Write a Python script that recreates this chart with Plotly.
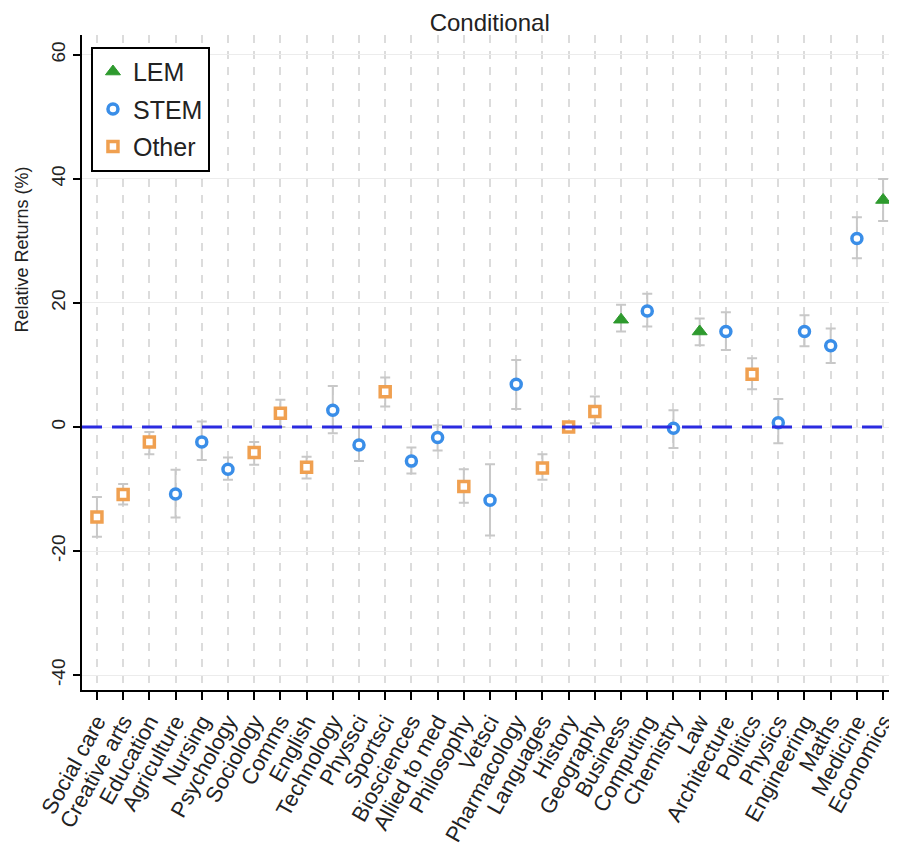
import plotly.graph_objects as go

categories = ["Social care", "Creative arts", "Education", "Agriculture", "Nursing",
              "Psychology", "Sociology", "Comms", "English", "Technology", "Physsci",
              "Sportsci", "Biosciences", "Allied to med", "Philosophy", "Vetsci",
              "Pharmacology", "Languages", "History", "Geography", "Business",
              "Computing", "Chemistry", "Law", "Architecture", "Politics", "Physics",
              "Engineering", "Maths", "Medicine", "Economics"]
groups = ["Other", "Other", "Other", "STEM", "STEM", "STEM", "Other", "Other", "Other",
          "STEM", "STEM", "Other", "STEM", "STEM", "Other", "STEM", "STEM", "Other",
          "Other", "Other", "LEM", "STEM", "STEM", "LEM", "STEM", "Other", "STEM",
          "STEM", "STEM", "STEM", "LEM"]
estimate = [-14.5, -10.9, -2.4, -10.8, -2.4, -6.8, -4.1, 2.2, -6.5, 2.7, -2.9,
            5.7, -5.5, -1.7, -9.6, -11.8, 6.9, -6.6, 0.0, 2.5, 17.3,
            18.7, -0.2, 15.4, 15.4, 8.5, 0.7, 15.4, 13.1, 30.4, 36.6]
lower = [-17.7, -12.5, -4.4, -14.6, -5.3, -8.5, -6.1, 0.0, -8.3, -1.0, -5.5,
         3.3, -7.5, -3.8, -12.2, -17.5, 2.9, -8.5, 0.0, 0.6, 15.4,
         16.2, -3.4, 13.2, 12.4, 6.1, -2.6, 13.0, 10.3, 27.2, 33.2]
upper = [-11.3, -9.2, -0.8, -6.9, 0.9, -4.9, -2.4, 4.4, -4.8, 6.6, 0.0,
         8.0, -3.3, 0.3, -6.8, -6.0, 10.8, -4.4, 0.0, 4.9, 19.7,
         21.5, 2.7, 17.5, 18.5, 11.1, 4.5, 18.0, 15.9, 33.8, 40.0]
y_ticks = [-40, -20, 0, 20, 40, 60]
y_tick_labels = ["-40", "-20", "0", "20", "40", "60"]
zero_line = 0

styles = {
    "LEM": dict(symbol="triangle-up", size=13, color="#2e9a2e", line=dict(color="#2e9a2e", width=1)),
    "STEM": dict(symbol="circle", size=10, color="white", line=dict(color="#3a8ee8", width=3.5)),
    "Other": dict(symbol="square", size=10, color="white", line=dict(color="#f0a050", width=3.5)),
}

fig = go.Figure()
for g in ["LEM", "STEM", "Other"]:
    idx = [i for i, gg in enumerate(groups) if gg == g]
    fig.add_trace(go.Scatter(
        x=[categories[i] for i in idx],
        y=[estimate[i] for i in idx],
        mode="markers",
        name=g,
        legendgroup=g,
        marker=styles[g],
        error_y=dict(type="data", symmetric=False,
                     array=[upper[i] - estimate[i] for i in idx],
                     arrayminus=[estimate[i] - lower[i] for i in idx],
                     color="#c8c8c8", thickness=2, width=5),
    ))

fig.add_hline(y=zero_line, line=dict(color="#2b2be0", width=3, dash="20px,10px"), layer="above")

font = "Liberation Sans, Arial, sans-serif"
fig.add_annotation(text="Relative Returns (%)", xref="paper", yref="paper",
                   x=-0.074, y=0.672, xanchor="center", yanchor="middle",
                   textangle=-90, showarrow=False,
                   font=dict(family=font, size=18, color="#222"))

fig.update_layout(
    width=897, height=849,
    margin=dict(l=74, r=8, t=27, b=167, autoexpand=False),
    paper_bgcolor="white", plot_bgcolor="white",
    title=dict(text="Conditional", x=0.537, xanchor="center", y=0.983, yanchor="middle",
               font=dict(family=font, size=24, color="#222")),
    font=dict(family=font, color="#222"),
    showlegend=True,
    legend=dict(x=0.011, y=0.982, xanchor="left", yanchor="top",
                bordercolor="black", borderwidth=2, bgcolor="white",
                font=dict(family=font, size=25, color="#222"),
                traceorder="grouped", tracegroupgap=2),
    xaxis=dict(categoryorder="array", categoryarray=categories,
               tickmode="array", tickvals=categories, ticktext=categories,
               range=[-0.57, 30.53], tickangle=-61, automargin=False,
               tickfont=dict(family=font, size=22, color="#222"),
               showgrid=True, gridcolor="#dcdcdc", gridwidth=2, griddash="8px,8px",
               ticks="outside", ticklen=8, tickwidth=2, tickcolor="black",
               showline=True, linecolor="black", linewidth=2, zeroline=False),
    yaxis=dict(range=[-42.4, 63.2], tickvals=y_ticks, ticktext=y_tick_labels,
               tickangle=-90, automargin=False,
               tickfont=dict(family=font, size=19, color="#222"),
               showgrid=True, gridcolor="#ececec", gridwidth=1,
               ticks="outside", ticklen=7, tickwidth=2, tickcolor="black",
               showline=True, linecolor="black", linewidth=2, zeroline=False),
)

fig.write_html("out.html")
